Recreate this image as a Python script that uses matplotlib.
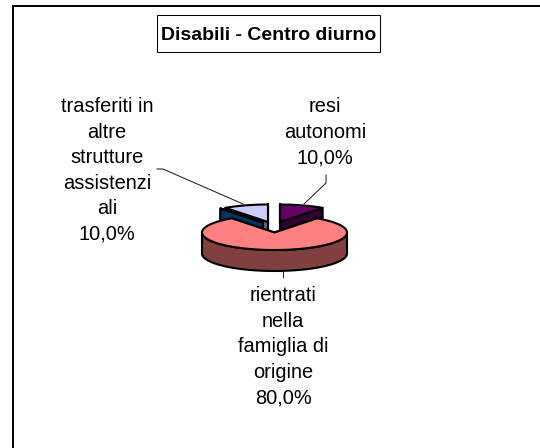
import matplotlib
matplotlib.use("Agg")
import matplotlib.pyplot as plt
import numpy as np
from matplotlib.patches import Polygon, Rectangle

plt.rcParams["font.family"] = ["Liberation Sans", "DejaVu Sans"]

title = "Disabili - Centro diurno"
categories = ["resi autonomi", "rientrati nella famiglia di origine", "altro", "trasferiti in altre strutture assistenziali"]
values = [10.0, 80.0, 0.0, 10.0]
top_colors = ["#660066", "#FF8080", "#0066CC", "#CCCCFF"]
side_colors = ["#330033", "#804040", "#003366", "#666680"]
label_lines = {
    0: ["resi", "autonomi"],
    1: ["rientrati", "nella", "famiglia di", "origine"],
    3: ["trasferiti in", "altre", "strutture", "assistenzi", "ali"],
}

# exploded slices: centre of each one in pixels
centres = [(280, 222), (274.5, 232.5), (263, 222.6), (268, 222)]
# centre x and first baseline of each label
label_pos = [(325, 112), (283, 301), None, (107, 112)]
RX, RY, DEPTH = 72.5, 17.5, 21
LW = 1.5
LINE_STEP = 25.6


def rim(cx, cy, angles):
    return np.column_stack([cx + RX * np.sin(angles), cy - RY * np.cos(angles)])


def draw_slice(ax, centre, start, stop, top, side):
    cx, cy = centre
    down = np.array([0, DEPTH])
    apex = np.array([cx, cy])
    for angle in (start, stop):
        edge = rim(cx, cy, np.array([angle]))[0]
        wall = [apex, edge, edge + down, apex + down]
        ax.add_patch(Polygon(wall, fc=side, ec="black", lw=LW, joinstyle="round"))
    # outer wall, only the part turned to the viewer
    lo, hi = max(start, np.pi / 2), min(stop, 3 * np.pi / 2)
    if hi > lo:
        arc = rim(cx, cy, np.linspace(lo, hi, 120))
        ax.add_patch(Polygon(np.vstack([arc, arc[::-1] + down]), fc=side, ec="black", lw=LW))
    arc = rim(cx, cy, np.linspace(start, stop, 120))
    ax.add_patch(Polygon(np.vstack([apex, arc]), fc=top, ec="black", lw=LW, joinstyle="round"))


def main():
    fig = plt.figure(figsize=(5.4, 4.48), dpi=100)
    ax = fig.add_axes([0, 0, 1, 1])
    ax.set_xlim(0, 540)
    ax.set_ylim(448, 0)
    ax.axis("off")

    # frame is cut off at the right and the bottom of the picture
    ax.plot([12.5, 12.5, 540], [448, 6.5, 6.5], color="black", lw=1.4, solid_joinstyle="miter")

    shares = np.array(values) / sum(values)
    stops = np.cumsum(shares) * 2 * np.pi
    starts = stops - shares * 2 * np.pi
    for i in (0, 3, 2, 1):
        draw_slice(ax, centres[i], starts[i], stops[i], top_colors[i], side_colors[i])

    ax.plot([157, 163, 243], [169, 169, 204], color="#222222", lw=0.75)
    ax.plot([326, 326, 304], [175, 183, 204], color="#222222", lw=0.75)
    ax.plot([283, 283], [272, 277], color="#222222", lw=0.75)

    for i, lines in label_lines.items():
        x, y = label_pos[i]
        for n, line in enumerate(lines + [f"{values[i]:.1f}%".replace(".", ",")]):
            ax.text(x, y + n * LINE_STEP, line, ha="center", va="baseline", fontsize=14.4, color="black")

    ax.add_patch(Rectangle((156.5, 15.5), 223, 37, fc="white", ec="black", lw=0.75))
    ax.text(268.5, 40, title, ha="center", va="baseline", fontsize=14, fontweight="bold", color="black")

    fig.savefig("out.png", dpi=100)
    plt.close(fig)


if __name__ == "__main__":
    main()
